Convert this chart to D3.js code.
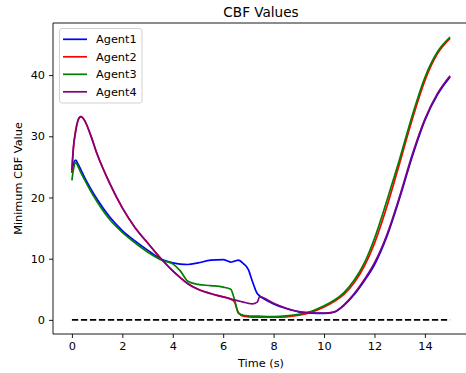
<!DOCTYPE html>
<html><head><meta charset="utf-8">
<script src="https://cdn.jsdelivr.net/npm/d3@7"></script>
<style>
html,body{margin:0;padding:0;background:#fff;}
svg{display:block;font-family:"DejaVu Sans",sans-serif;}
</style></head>
<body><svg id="chart" width="466" height="373"></svg>
<script>
const time = [0, 0.05, 0.15, 0.25, 0.35, 0.5, 0.75, 1.0, 1.5, 2.0, 2.5, 3.0, 3.6, 4.0, 4.3, 4.6, 5.0, 5.5, 6.0, 6.3, 6.45, 6.6, 6.8, 7.0, 7.15, 7.35, 7.45, 7.55, 8.0, 8.5, 9.0, 9.5, 10.0, 10.4, 10.8, 11.2, 11.6, 12.0, 12.5, 13.0, 13.5, 14.0, 14.5, 15.0];
const agent1 = [24.0, 25.2, 26.1, 25.4, 24.6, 23.3, 21.4, 19.7, 16.8, 14.6, 12.9, 11.4, 9.8, 9.3, 9.1, 9.05, 9.3, 9.75, 9.85, 9.45, 9.6, 9.75, 9.2, 8.2, 6.4, 4.3, 3.9, 3.6, 2.6, 1.85, 1.3, 1.1, 1.05, 1.25, 2.4, 4.15, 6.4, 9.0, 13.7, 19.9, 26.7, 32.6, 36.8, 39.7];
const agent2 = [24.0, 27.5, 31.0, 32.7, 33.2, 32.6, 30.1, 27.1, 22.3, 18.3, 15.1, 12.6, 9.7, 8.0, 6.9, 5.9, 5.0, 4.3, 3.75, 3.4, 2.9, 1.2, 0.6, 0.5, 0.45, 0.45, 0.45, 0.45, 0.45, 0.5, 0.75, 1.25, 2.1, 3.0, 4.2, 6.1, 8.8, 12.5, 18.6, 25.6, 32.8, 39.1, 43.5, 46.0];
const agent3 = [22.8, 24.3, 25.7, 25.0, 24.1, 22.9, 21.0, 19.3, 16.4, 14.3, 12.6, 11.1, 9.7, 9.15, 8.0, 6.3, 5.8, 5.6, 5.35, 5.0, 3.3, 1.1, 0.75, 0.65, 0.6, 0.6, 0.6, 0.58, 0.55, 0.65, 0.9, 1.4, 2.3, 3.2, 4.5, 6.5, 9.3, 13.3, 19.6, 26.3, 33.4, 39.6, 43.8, 46.2];
const agent4 = [24.5, 27.8, 30.8, 32.7, 33.2, 32.6, 30.1, 27.1, 22.3, 18.3, 15.1, 12.6, 9.7, 8.0, 6.9, 5.9, 5.0, 4.3, 3.75, 3.4, 3.25, 3.1, 2.9, 2.7, 2.6, 2.9, 3.8, 3.7, 2.7, 1.9, 1.35, 1.15, 1.1, 1.3, 2.5, 4.3, 6.6, 9.3, 14.0, 20.2, 27.0, 32.8, 37.0, 39.9];
const seriesNames = ["Agent1", "Agent2", "Agent3", "Agent4"];
const seriesColors = ["blue", "red", "green", "purple"];
const xTicks = [0, 2, 4, 6, 8, 10, 12, 14];
const yTicks = [0, 10, 20, 30, 40];
const threshold = [[0, 0], [15, 0]];

const allSeries = [agent1, agent2, agent3, agent4];
const svg = d3.select("#chart");
const L = 53, T = 23, R = 469, B = 334;
const x = d3.scaleLinear().domain([-0.75, 15.75]).range([L, R]);
const y = d3.scaleLinear().domain([-2.31, 48.51]).range([B, T]);

svg.append("defs").append("clipPath").attr("id", "clip")
  .append("rect").attr("x", L).attr("y", T).attr("width", R - L).attr("height", B - T);

const g = svg.append("g").attr("clip-path", "url(#clip)");
const line = d3.line().x(d => x(d[0])).y(d => y(d[1])).curve(d3.curveMonotoneX);

allSeries.forEach((vals, i) => {
  g.append("path")
    .datum(time.map((t, j) => [t, vals[j]]))
    .attr("d", line)
    .attr("fill", "none")
    .attr("stroke", seriesColors[i])
    .attr("stroke-width", 1.7)
    .attr("stroke-linejoin", "round")
    .attr("stroke-linecap", "butt");
});

g.append("path")
  .datum(threshold)
  .attr("d", d3.line().x(d => x(d[0])).y(d => y(d[1])))
  .attr("fill", "none")
  .attr("stroke", "black")
  .attr("stroke-width", 1.7)
  .attr("stroke-dasharray", "6.3,2.7");

// axes
const fs = 11.3;
const xAxis = svg.append("g").attr("transform", `translate(0,${B})`)
  .call(d3.axisBottom(x).tickValues(xTicks).tickSize(4).tickPadding(4).tickFormat(d3.format("d")));
const yAxis = svg.append("g").attr("transform", `translate(${L},0)`)
  .call(d3.axisLeft(y).tickValues(yTicks).tickSize(4).tickPadding(4).tickFormat(d3.format("d")));
[xAxis, yAxis].forEach(a => {
  a.select(".domain").remove();
  a.selectAll("line").attr("stroke", "black").attr("stroke-width", 0.9);
  a.selectAll("text").attr("font-size", fs).attr("font-family", "DejaVu Sans").attr("fill", "black");
});

// spines
svg.append("line").attr("x1", L).attr("x2", L).attr("y1", T).attr("y2", B).attr("stroke", "black").attr("stroke-width", 0.9);
svg.append("line").attr("x1", L).attr("x2", R).attr("y1", B).attr("y2", B).attr("stroke", "black").attr("stroke-width", 0.9);
svg.append("line").attr("x1", L).attr("x2", R).attr("y1", T).attr("y2", T).attr("stroke", "black").attr("stroke-width", 0.9);
svg.append("line").attr("x1", R).attr("x2", R).attr("y1", T).attr("y2", B).attr("stroke", "black").attr("stroke-width", 0.9);

// title & labels
svg.append("text").attr("x", (L + R) / 2).attr("y", 17).attr("text-anchor", "middle")
  .attr("font-size", 13.6).text("CBF Values");
svg.append("text").attr("x", (L + R) / 2).attr("y", 367).attr("text-anchor", "middle")
  .attr("font-size", fs).text("Time (s)");
svg.append("text").attr("transform", `translate(22,${(T + B) / 2}) rotate(-90)`).attr("text-anchor", "middle")
  .attr("font-size", fs).text("Minimum CBF Value");

// legend
const lg = svg.append("g");
lg.append("rect").attr("x", 59.5).attr("y", 28.5).attr("width", 82.5).attr("height", 74.5)
  .attr("rx", 2.5).attr("fill", "white").attr("fill-opacity", 0.8)
  .attr("stroke", "#cccccc").attr("stroke-width", 0.9);
seriesNames.forEach((name, i) => {
  const cy = 39.3 + i * 17.5;
  lg.append("line").attr("x1", 63).attr("x2", 87).attr("y1", cy).attr("y2", cy)
    .attr("stroke", seriesColors[i]).attr("stroke-width", 1.7);
  lg.append("text").attr("x", 96).attr("y", cy + 4).attr("font-size", fs).text(name);
});
</script>
</body></html>
